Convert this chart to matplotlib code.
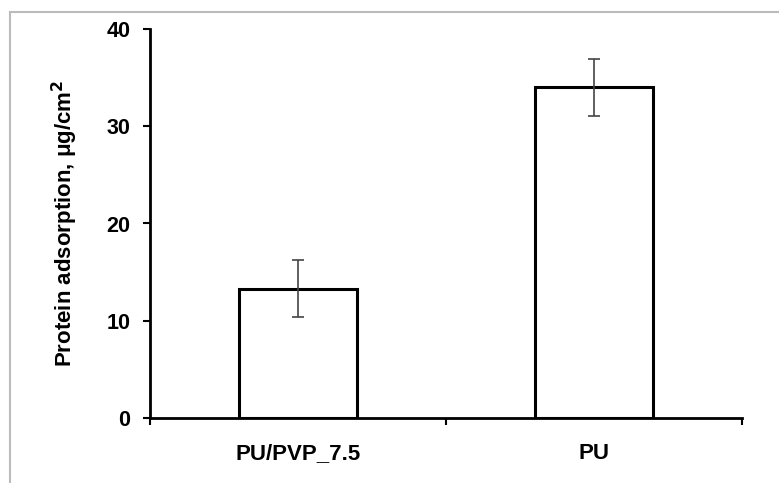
import matplotlib
matplotlib.use("Agg")
import matplotlib.pyplot as plt
from matplotlib.lines import Line2D

categories = ["PU/PVP_7.5", "PU"]
values = [13.3, 34.0]
errors = [2.9, 2.9]
yticks = [0, 10, 20, 30, 40]

plt.rcParams['font.family'] = ['Liberation Sans', 'DejaVu Sans']
plt.rcParams['font.weight'] = 'bold'

W, H = 779, 483
fig = plt.figure(figsize=(W/100, H/100), dpi=100)
ax = fig.add_axes([150/W, 1-418/H, (742-150)/W, (418-29)/H])

x = list(range(len(categories)))
ax.bar(x, values, width=0.4, color='white', edgecolor='black', linewidth=2.2, zorder=2)
ax.errorbar(x, values, yerr=errors, fmt='none', ecolor='#444444', elinewidth=1.2,
            capsize=4, capthick=1.2, zorder=3)

ax.set_xlim(-0.5, len(categories)-0.5)
ax.set_ylim(0, 40)
ax.set_yticks(yticks)
ax.set_yticklabels([str(t) for t in yticks], fontsize=15.5, fontweight='bold')
ax.set_xticks([i - 0.5 for i in range(len(categories)+1)])
ax.set_xticklabels([])
ax.set_xticks(x, minor=True)
ax.set_xticklabels(categories, minor=True, fontsize=16, fontweight='bold')
ax.tick_params(axis='x', which='minor', length=0, pad=18)
ax.tick_params(axis='x', which='major', direction='out', length=5, width=1.5)
ax.tick_params(axis='y', direction='out', length=5, width=1.5, pad=9)
for s in ['top', 'right']:
    ax.spines[s].set_visible(False)
for s in ['left', 'bottom']:
    ax.spines[s].set_linewidth(2)
ax.set_ylabel("Protein adsorption, μg/cm$^\\mathbf{2}$", fontsize=16, fontweight='bold', labelpad=19)

fig.add_artist(Line2D([10/W, 1], [1-12/H, 1-12/H], color='#bbbbbb', linewidth=1.5))
fig.add_artist(Line2D([10/W, 10/W], [0, 1-12/H], color='#bbbbbb', linewidth=1.5))

fig.savefig("out.png", dpi=100)
